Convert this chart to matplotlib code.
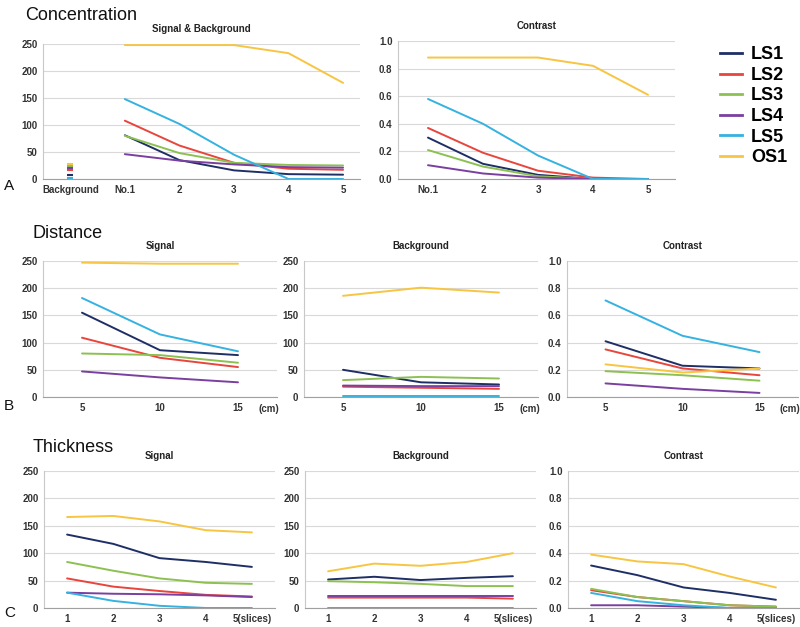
import matplotlib
matplotlib.use("Agg")
import matplotlib.pyplot as plt
from matplotlib.lines import Line2D

# series names and colours
series = ["LS1", "LS2", "LS3", "LS4", "LS5", "OS1"]
colors = ["#1F2F66", "#E8453C", "#8CC152", "#7A3FA0", "#35B2E0", "#F7C541"]

# A: concentration
conc_labels = ["Background", "No.1", "2", "3", "4", "5"]
conc_bg = [8, 17, 25, 20, 1, 27]
conc_sig = {
    "LS1": [81, 35, 16, 9, 8],
    "LS2": [108, 62, 30, 19, 17],
    "LS3": [80, 48, 30, 26, 25],
    "LS4": [46, 34, 27, 22, 21],
    "LS5": [148, 102, 45, 0, 0],
    "OS1": [248, 248, 248, 233, 178],
}
conc_con = {
    "LS1": [0.30, 0.11, 0.03, 0.0, 0.0],
    "LS2": [0.37, 0.19, 0.06, 0.01, 0.0],
    "LS3": [0.21, 0.09, 0.02, 0.0, 0.0],
    "LS4": [0.10, 0.04, 0.01, 0.0, 0.0],
    "LS5": [0.58, 0.40, 0.17, 0.0, 0.0],
    "OS1": [0.88, 0.88, 0.88, 0.82, 0.61],
}

# B: distance
dist_labels = ["5", "10", "15"]
dist_sig = {
    "LS1": [155, 86, 77],
    "LS2": [109, 72, 55],
    "LS3": [80, 77, 63],
    "LS4": [47, 36, 27],
    "LS5": [182, 115, 84],
    "OS1": [247, 245, 245],
}
dist_bg = {
    "LS1": [50, 27, 23],
    "LS2": [19, 17, 15],
    "LS3": [31, 37, 34],
    "LS4": [21, 20, 20],
    "LS5": [1, 1, 1],
    "OS1": [186, 201, 192],
}
dist_con = {
    "LS1": [0.41, 0.23, 0.21],
    "LS2": [0.35, 0.21, 0.16],
    "LS3": [0.19, 0.16, 0.12],
    "LS4": [0.10, 0.06, 0.03],
    "LS5": [0.71, 0.45, 0.33],
    "OS1": [0.24, 0.18, 0.21],
}

# C: thickness
thick_labels = ["1", "2", "3", "4", "5(slices)"]
thick_sig = {
    "LS1": [134, 117, 91, 84, 75],
    "LS2": [54, 39, 31, 24, 21],
    "LS3": [84, 68, 54, 46, 44],
    "LS4": [28, 26, 25, 23, 20],
    "LS5": [28, 13, 4, 0, 0],
    "OS1": [166, 168, 158, 142, 138],
}
thick_bg = {
    "LS1": [52, 57, 51, 55, 58],
    "LS2": [19, 19, 19, 19, 17],
    "LS3": [49, 47, 44, 40, 40],
    "LS4": [21, 21, 21, 21, 21],
    "LS5": [0, 0, 0, 0, 0],
    "OS1": [67, 81, 77, 84, 100],
}
thick_con = {
    "LS1": [0.31, 0.24, 0.15, 0.11, 0.06],
    "LS2": [0.13, 0.08, 0.05, 0.02, 0.01],
    "LS3": [0.14, 0.08, 0.05, 0.02, 0.01],
    "LS4": [0.02, 0.02, 0.01, 0.0, 0.0],
    "LS5": [0.11, 0.05, 0.02, 0.0, 0.0],
    "OS1": [0.39, 0.34, 0.32, 0.23, 0.15],
}

W, H = 800, 627
fig = plt.figure(figsize=(8, 6.27), dpi=100)
plt.rcParams["font.family"] = ["Liberation Sans", "DejaVu Sans"]

tick_col = "#333333"


def make_ax(x0, x1, ytop, ybot):
    ax = fig.add_axes([x0 / W, 1 - ybot / H, (x1 - x0) / W, (ybot - ytop) / H])
    for s in ["top", "right"]:
        ax.spines[s].set_visible(False)
    ax.spines["left"].set_color("#C8C8C8")
    ax.spines["bottom"].set_color("#A0A0A0")
    ax.yaxis.grid(True, color="#D9D9D9", lw=0.8)
    ax.set_axisbelow(True)
    ax.tick_params(axis="both", length=0, labelsize=7, colors=tick_col, pad=4)
    return ax


def style_y(ax, kind):
    if kind == "sig":
        ax.set_ylim(0, 250)
        ax.set_yticks([0, 50, 100, 150, 200, 250])
        ax.set_yticklabels([str(v) for v in [0, 50, 100, 150, 200, 250]],
                           fontweight="bold")
    else:
        ax.set_ylim(0, 1.0)
        ax.set_yticks([0, 0.2, 0.4, 0.6, 0.8, 1.0])
        ax.set_yticklabels(["%.1f" % v for v in [0, 0.2, 0.4, 0.6, 0.8, 1.0]],
                           fontweight="bold")


def draw(ax, data, offset=0):
    for name, c in zip(series, colors):
        vals = data[name]
        xs = [i + offset for i in range(len(vals))]
        ax.plot(xs, vals, color=c, lw=1.4, solid_capstyle="round")


def title(ax, txt):
    ax.set_title(txt, fontsize=7, fontweight="bold", color="#222222", pad=8.5)


# ---- A ----
ax = make_ax(43, 360, 44, 179)
draw(ax, conc_sig, offset=1)
for v, c in zip(conc_bg, colors):
    ax.plot([0], [v], marker="_", ms=5, mew=1.5, color=c, ls="none")
ax.set_xlim(-0.5, 5.31)
ax.set_xticks(range(len(conc_labels)))
ax.set_xticklabels(conc_labels, fontweight="bold")
style_y(ax, "sig")
title(ax, "Signal & Background")

ax = make_ax(398, 675, 41, 179)
draw(ax, conc_con)
ax.set_xlim(-0.545, 4.49)
ax.set_xticks(range(5))
ax.set_xticklabels(conc_labels[1:], fontweight="bold")
style_y(ax, "con")
title(ax, "Contrast")

# ---- B ----
for (x0, x1), data, kind, ttl in zip([(43, 277), (304, 538), (567, 798)],
                                     [dist_sig, dist_bg, dist_con],
                                     ["sig", "sig", "con"],
                                     ["Signal", "Background", "Contrast"]):
    ax = make_ax(x0, x1, 261, 397)
    draw(ax, data)
    ax.set_xlim(-0.5, 2.5)
    ax.set_xticks(range(3))
    ax.set_xticklabels(dist_labels, fontweight="bold")
    style_y(ax, kind)
    title(ax, ttl)
    ax.text(2.4, -0.055, "(cm)", transform=ax.get_xaxis_transform(),
            fontsize=7, fontweight="bold", color=tick_col, ha="center", va="top")

# ---- C ----
for (x0, x1), data, kind, ttl in zip([(44, 275), (305, 536), (568, 799)],
                                     [thick_sig, thick_bg, thick_con],
                                     ["sig", "sig", "con"],
                                     ["Signal", "Background", "Contrast"]):
    ax = make_ax(x0, x1, 471, 608)
    draw(ax, data)
    ax.set_xlim(-0.5, 4.5)
    ax.set_xticks(range(5))
    ax.set_xticklabels(thick_labels, fontweight="bold")
    style_y(ax, kind)
    title(ax, ttl)

# section headings and panel letters
fig.text(25 / W, 1 - 15 / H, "Concentration", fontsize=13, va="center", color="#111111")
fig.text(32 / W, 1 - 234 / H, "Distance", fontsize=13, va="center", color="#111111")
fig.text(33 / W, 1 - 447 / H, "Thickness", fontsize=13, va="center", color="#111111")
fig.text(4 / W, 1 - 186 / H, "A", fontsize=11, va="center", color="#111111")
fig.text(4 / W, 1 - 406 / H, "B", fontsize=11, va="center", color="#111111")
fig.text(4 / W, 1 - 613 / H, "C", fontsize=11, va="center", color="#111111")

# legend
handles = [Line2D([0], [0], color=c, lw=2) for c in colors]
fig.legend(handles, series, loc="upper left", bbox_to_anchor=(704 / W, 1 - 30 / H),
           frameon=False, prop={"size": 13, "weight": "bold"},
           handlelength=1.2, handletextpad=0.5, labelspacing=0.2)

fig.savefig("out.png", dpi=100)
